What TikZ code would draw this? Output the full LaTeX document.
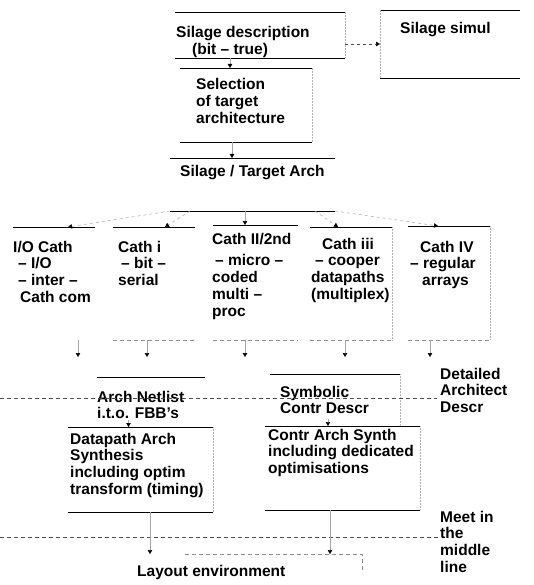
\documentclass[tikz,border=0pt]{standalone}
\usepackage{fontspec}
\setmainfont{Liberation Sans}
\usetikzlibrary{arrows.meta}

\begin{document}
\begin{tikzpicture}[x=1pt,y=-1pt,
    frame/.style={inner sep=0pt, outer sep=0pt, rectangle},
    txt/.style={inner sep=0pt, anchor=base west, align=left,
        font=\bfseries\fontsize{15.5}{16.8}\selectfont},
    rule/.style={line width=0.9pt},
    side/.style={draw=black!30, densely dotted, line width=0.5pt},
    conn/.style={draw=black!35, line width=0.5pt,
        -{Triangle[width=4.5pt,length=4pt,color=black]}},
    guide/.style={draw=black!70, dash pattern=on 4pt off 3pt, line width=0.5pt}]
    \useasboundingbox (0,0) rectangle (534,585);

    % boxes
    \node[frame, minimum width=170pt, minimum height=46pt] (desc) at (260,35) {};
    \node[frame, minimum width=140pt, minimum height=68pt] (simul) at (450,44) {};
    \node[frame, minimum width=132pt, minimum height=74pt] (select) at (246,105) {};
    \node[frame, minimum width=165pt, minimum height=53pt] (target) at (252.5,184.5) {};
    \node[frame, minimum width=82pt, minimum height=113pt] (cio) at (54,283.5) {};
    \node[frame, minimum width=82pt, minimum height=113pt] (ci) at (154,283.5) {};
    \node[frame, minimum width=85pt, minimum height=115pt] (cii) at (255.5,282.5) {};
    \node[frame, minimum width=82pt, minimum height=113pt] (ciii) at (351,283.5) {};
    \node[frame, minimum width=82pt, minimum height=114pt] (civ) at (449,283) {};
    \node[frame, minimum width=108pt, minimum height=50pt] (netlist) at (151,402) {};
    \node[frame, minimum width=145pt, minimum height=85pt] (dpsyn) at (140.5,469.5) {};
    \node[frame, minimum width=130pt, minimum height=52pt] (symb) at (335,400) {};
    \node[frame, minimum width=155pt, minimum height=84pt] (ctsyn) at (342.5,468) {};
    \node[frame, minimum width=222pt, minimum height=31pt] (layout) at (251,569.5) {};

    % long dashed levels
    \coordinate (dl) at (0,398);
    \coordinate (ml) at (0,537);

    % texts (placed at the baseline of their last line)
    \node[txt] (descT) at (176,54.8) {Silage description\\\hspace*{16pt}(bit – true)};
    \node[txt] (simulT) at (400,34) {Silage simul};
    \node[txt] (selectT) at (196,123.6) {Selection\\of target\\architecture};
    \node[txt] (targetT) at (180,177) {Silage / Target Arch};
    \node[txt] (cioT) at (13,302.4) {I/O Cath\\\hspace*{5pt}– I/O\\\hspace*{5pt}– inter –\\\hspace*{7pt}Cath com};
    \node[txt] (ciT) at (118,285.6) {Cath i\\\hspace*{3pt}– bit –\\serial};
    \node[txt] (ciiT) at (212,316.2) {Cath II/2nd\\[5pt]\hspace*{3pt}– micro –\\coded\\multi –\\proc};
    \node[txt] (ciiiT) at (311,299.4) {\hspace*{11pt}Cath iii\\\hspace*{4pt}– cooper\\datapaths\\(multiplex)};
    \node[txt] (civT) at (410,285.6) {\hspace*{10pt}Cath IV\\– regular\\\hspace*{12pt}arrays};
    \node[txt] (netlistT) at (95,418.8) {\hspace*{2pt}Arch Netlist\\\hspace*{2pt}i.t.o. FBB's};
    \node[txt] (dpsynT) at (70,494.4) {Datapath Arch\\Synthesis\\including optim\\transform (timing)};
    \node[txt] (symbT) at (280,413.8) {Symbolic\\Contr Descr};
    \node[txt] (ctsynT) at (268,473.6) {Contr Arch Synth\\including dedicated\\optimisations};
    \node[txt] (detailed) at (440,412.6) {Detailed\\Architect\\Descr};
    \node[txt] (meet) at (440,572.4) {Meet in\\the\\middle\\line};
    \node[txt] (layoutT) at (137,576) {Layout environment};

    % rules of the boxes
    \foreach \b in {desc,simul,select,target,netlist,dpsyn,symb,ctsyn} {
        \draw[rule] (\b.north west) -- (\b.north east);
        \draw[rule] (\b.south west) -- (\b.south east);
    }
    \foreach \b in {cio,ci,cii,ciii,civ}
        \draw[rule] (\b.north west) -- (\b.north east);
    \foreach \b in {ci,cii,ciii,civ}
        \draw[guide, draw=black!45] (\b.south west) -- (\b.south east);
    \foreach \b in {desc,select,ciii,civ,symb,dpsyn,ctsyn}
        \draw[side] (\b.north east) -- (\b.south east);
    \draw[side] (simul.north west) -- (simul.south west);
    \draw[guide, draw=black!45] ([xshift=45pt]layout.north west) -- (layout.north east) -- (layout.east);

    % connectors
    \draw[conn, draw=black!70, dashed] (desc.east |- simul.west) -- (simul.west);
    \draw[conn] ([xshift=-16pt]select.north |- desc.south) -- ([xshift=-16pt]select.north);
    \draw[conn] ([xshift=-20.5pt]target.north |- select.south) -- ([xshift=-20.5pt]target.north);

    \draw[conn, dashed] (target.south west) -- ([xshift=14pt]cio.north);
    \draw[conn, dashed] ([xshift=20pt]target.south west) -- ([xshift=11pt]ci.north);
    \draw[conn] ([xshift=-10.5pt]cii.north |- target.south) -- ([xshift=-10.5pt]cii.north);
    \draw[conn, dashed] ([xshift=-20pt]target.south east) -- ([xshift=-13pt]ciii.north);
    \draw[conn, dashed] (target.south east) -- ([xshift=-11pt]civ.north);

    \coordinate (d1) at (78,357);
    \coordinate (d2) at (147,357);
    \coordinate (d3) at (245,357);
    \coordinate (d4) at (345,357);
    \coordinate (d5) at (430,357);
    \draw[conn] (cio.south -| d1) -- (d1);
    \draw[conn] (ci.south -| d2) -- (d2);
    \draw[conn] (cii.south -| d3) -- (d3);
    \draw[conn] (ciii.south -| d4) -- (d4);
    \draw[conn] (civ.south -| d5) -- (d5);

    \draw[guide] (dl) -- ([xshift=-3pt]detailed.west |- dl);
    \draw[conn] ([xshift=-12pt,yshift=7pt]dpsyn.north) -- ([xshift=-12pt]dpsyn.north);
    \draw[conn] ([xshift=-14.5pt,yshift=7pt]ctsyn.north) -- ([xshift=-14.5pt]ctsyn.north);

    \draw[guide] (ml) -- ([xshift=-2pt]meet.west |- ml);
    \draw[conn] ([xshift=9.5pt]dpsyn.south) -- ([xshift=9.5pt]dpsyn.south |- layout.north);
    \draw[conn] ([xshift=-12.5pt]ctsyn.south) -- ([xshift=-12.5pt]ctsyn.south |- layout.north);
\end{tikzpicture}
\end{document}
